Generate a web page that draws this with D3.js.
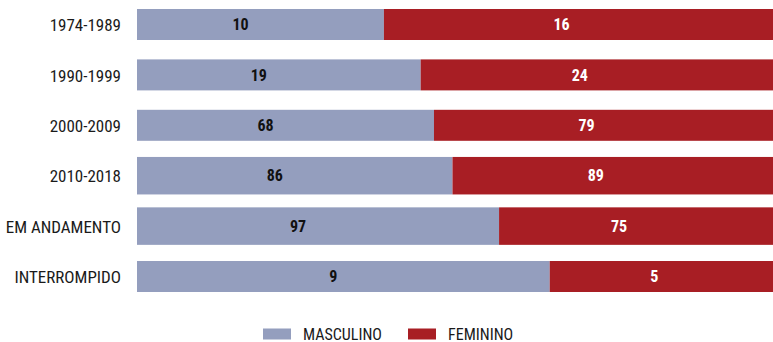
<!DOCTYPE html>
<html>
<head>
<meta charset="utf-8">
<script src="https://cdn.jsdelivr.net/npm/d3@7"></script>
<style>
  html, body { margin: 0; padding: 0; background: #fff; }
  svg { display: block; }
</style>
</head>
<body>
<svg id="chart" width="773" height="342"></svg>
<script>
// Projects by period / status, split by gender
const categories = ["1974-1989", "1990-1999", "2000-2009", "2010-2018", "EM ANDAMENTO", "INTERROMPIDO"];
const masculino = [10, 19, 68, 86, 97, 9];
const feminino  = [16, 24, 79, 89, 75, 5];
const seriesNames = ["MASCULINO", "FEMININO"];
const seriesColors = ["#949ebe", "#a81e24"];

const FONT = "'Roboto Condensed', 'Liberation Sans Narrow', sans-serif";
const svg = d3.select("#chart");

const rows = categories.map((c, i) => {
  const total = masculino[i] + feminino[i];
  return { cat: c, values: [masculino[i], feminino[i]], total };
});

// share of the row total (0..1)
const x = d3.scaleLinear().domain([0, 1]).range([137, 779]);
const y = d3.scalePoint().domain(categories).range([24.5, 276.5]);

// the two middle rows are drawn a bit thicker
const thick = new Set(["2010-2018", "EM ANDAMENTO"]);
const barH = c => thick.has(c) ? 37.5 : 31;

const g = svg.append("g");

rows.forEach(r => {
  let acc = 0;
  const segs = r.values.map((v, k) => {
    const s = { k, v, x0: acc / r.total, x1: (acc + v) / r.total };
    acc += v;
    return s;
  });
  const row = g.append("g");
  row.selectAll("rect").data(segs).join("rect")
    .attr("x", d => x(d.x0))
    .attr("width", d => x(d.x1) - x(d.x0))
    .attr("y", y(r.cat) - barH(r.cat) / 2)
    .attr("height", barH(r.cat))
    .attr("fill", d => seriesColors[d.k]);
  row.selectAll("text.val").data(segs).join("text")
    .attr("class", "val")
    .attr("x", d => (x(d.x0) + x(d.x1)) / 2 - 10 * String(d.v).length)
    .attr("y", y(r.cat))
    .attr("dy", "0.36em")
    .attr("text-anchor", "middle")
    .style("font-family", FONT)
    .attr("font-size", 16)
    .attr("font-weight", "bold")
    .attr("fill", d => d.k === 0 ? "#111" : "#fff")
    .text(d => d.v);
});

// category axis
const yAxis = d3.axisLeft(y).tickSize(0).tickPadding(0);
const axisG = svg.append("g")
  .attr("transform", "translate(121,0)")
  .call(yAxis);
axisG.select(".domain").remove();
axisG.selectAll("text")
  .style("font-family", FONT)
  .style("font-size", "17px")
  .attr("fill", "#1a1a1a")
  .attr("dy", "0.36em");

// legend
const legendX = [263, 408];
const legend = svg.append("g");
seriesNames.forEach((name, i) => {
  legend.append("rect")
    .attr("x", legendX[i]).attr("y", 328.5)
    .attr("width", 28).attr("height", 11)
    .attr("fill", seriesColors[i]);
  legend.append("text")
    .attr("x", legendX[i] + 40).attr("y", 339.5)
    .style("font-family", FONT)
    .attr("font-size", 16)
    .attr("fill", "#1a1a1a")
    .text(name);
});
</script>
</body>
</html>
